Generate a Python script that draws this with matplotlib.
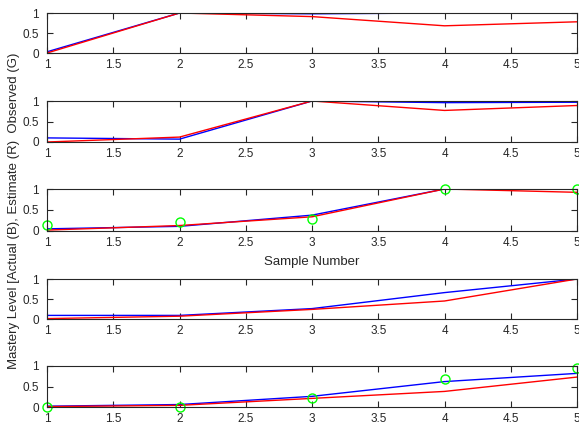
import matplotlib
matplotlib.use("Agg")
import matplotlib.pyplot as plt

plt.rcParams['font.family'] = ['Liberation Sans', 'DejaVu Sans']

samples = [1, 2, 3, 4, 5]

actual = [
    [0.03, 1.00, 0.98, 1.00, 1.00],
    [0.10, 0.07, 1.00, 0.96, 0.97],
    [0.04, 0.10, 0.37, 1.00, 1.00],
    [0.09, 0.09, 0.26, 0.66, 1.00],
    [0.02, 0.06, 0.26, 0.62, 0.82],
]
estimate = [
    [0.00, 1.00, 0.91, 0.68, 0.78],
    [0.00, 0.12, 1.00, 0.77, 0.89],
    [0.01, 0.12, 0.33, 1.00, 0.92],
    [0.01, 0.07, 0.24, 0.45, 1.00],
    [0.01, 0.04, 0.21, 0.38, 0.73],
]
observed = {
    2: [0.14, 0.20, 0.28, 1.00, 1.00],
    4: [0.00, 0.00, 0.21, 0.68, 0.94],
}

xticks = [1, 1.5, 2, 2.5, 3, 3.5, 4, 4.5, 5]
xticklabels = ['1', '1.5', '2', '2.5', '3', '3.5', '4', '4.5', '5']
yticks = [0, 0.5, 1]
yticklabels = ['0', '0.5', '1']

W, H = 579, 425
fig = plt.figure(figsize=(W / 100, H / 100), dpi=100)

tops = [13, 101, 189, 279, 366]
bottoms = [53, 142, 230.5, 319, 407]
left, right = 47, 577
axc = (0.15, 0.15, 0.15)

for i in range(5):
    ax = fig.add_axes([left / W, 1 - bottoms[i] / H, (right - left) / W, (bottoms[i] - tops[i]) / H])
    ax.plot(samples, actual[i], color='blue', lw=1.0)
    ax.plot(samples, estimate[i], color='red', lw=1.0)
    if i in observed:
        ax.plot(samples, observed[i], linestyle='none', marker='o', mfc='none',
                mec=(0, 1, 0), ms=6.5, mew=1.0, clip_on=False)
    ax.set_xlim(1, 5)
    ax.set_ylim(0, 1)
    ax.set_xticks(xticks)
    ax.set_xticklabels(xticklabels)
    ax.set_yticks(yticks)
    ax.set_yticklabels(yticklabels)
    ax.tick_params(direction='in', top=True, right=True, length=4, width=0.8,
                   colors=axc, labelsize=8.5)
    ax.tick_params(axis='x', pad=4.5)
    ax.tick_params(axis='y', pad=6)
    for s in ax.spines.values():
        s.set_color(axc)
        s.set_linewidth(0.8)
    if i == 2:
        ax.set_xlabel('Sample Number', fontsize=9.5, color=axc, labelpad=5)

fig.text(14 / W, 1 - 211 / H, 'Mastery Level [Actual (B), Estimate (R)  Observed (G)',
         rotation=90, ha='center', va='center', fontsize=9.5, color=axc)

fig.savefig('out.png', dpi=100)
